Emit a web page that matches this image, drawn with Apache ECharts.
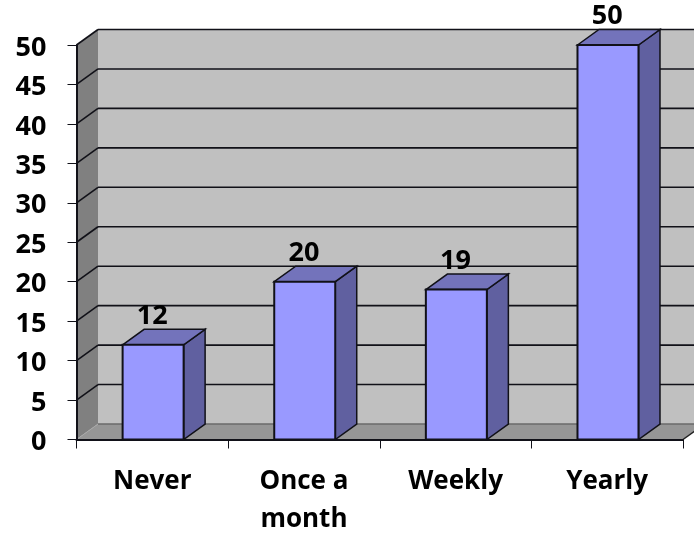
<!DOCTYPE html>
<html><head><meta charset="utf-8">
<style>html,body{margin:0;padding:0;background:#fff}#c{width:694px;height:533px}</style>
<script src="https://cdn.jsdelivr.net/npm/echarts@6/dist/echarts.min.js"></script>
</head><body><div id="c"></div>
<script>
const categories = ['Never', 'Once a\nmonth', 'Weekly', 'Yearly'];
const values = [12, 20, 19, 50];
const gridTicks = [0, 5, 10, 15, 20, 25, 30, 35, 40, 45, 50];

const DX = 21.5, DY = -15.5, BAR_W = 61, BAR_SHIFT = 0.8;
const FONT = '"Open Sans", "Noto Sans", sans-serif';
const INK = '#111118';

function poly(points, fill, stroke, lw) {
  return { type: 'polygon', shape: { points }, style: { fill, stroke: stroke || 'none', lineWidth: lw || 0 } };
}
function seg(x1, y1, x2, y2, stroke, lw) {
  return { type: 'line', shape: { x1, y1, x2, y2 }, style: { stroke, lineWidth: lw } };
}

function renderWalls(params, api) {
  const cs = params.coordSys;
  const xL = cs.x, xR = cs.x + cs.width;
  const y0 = api.coord([0, 0])[1], yT = api.coord([0, 50])[1];
  const kids = [
    poly([[xL + DX, yT + DY], [xR + DX, yT + DY], [xR + DX, y0 + DY], [xL + DX, y0 + DY]], '#c0c0c0'),
    poly([[xL, yT], [xL + DX, yT + DY], [xL + DX, y0 + DY], [xL, y0]], '#808080'),
    poly([[xL, y0], [xL + DX, y0 + DY], [xR + DX, y0 + DY], [xR, y0]], '#969696')
  ];
  gridTicks.forEach(function (t) {
    const y = api.coord([0, t])[1];
    if (t === 0) {
      kids.push(seg(xL, y, xL + DX, y + DY, '#a8a8a8', 1));
      kids.push(seg(xL + DX, y + DY, xR + DX, y + DY, '#6a6a6a', 1.5));
      kids.push(seg(xR, y, xR + DX, y + DY, '#222', 1.5));
    } else {
      kids.push(seg(xL, y, xL + DX, y + DY, INK, 1.6));
      kids.push(seg(xL + DX, y + DY, xR + DX, y + DY, INK, 1.6));
    }
  });
  return { type: 'group', children: kids };
}

function renderBar(params, api) {
  const i = api.value(0), v = api.value(1);
  const c = api.coord([i, v]), b = api.coord([i, 0]);
  const l = c[0] - BAR_W / 2 + BAR_SHIFT, r = l + BAR_W, t = c[1], y0 = b[1];
  return {
    type: 'group',
    children: [
      poly([[r, t], [r + DX, t + DY], [r + DX, y0 + DY], [r, y0]], '#6060a0', INK, 1.5),
      poly([[l, t], [l + DX, t + DY], [r + DX, t + DY], [r, t]], '#7373bb', INK, 1.5),
      poly([[l, t], [r, t], [r, y0], [l, y0]], '#9999ff', INK, 2),
      { type: 'text', style: { x: c[0], y: t - 28.5, text: String(v), fill: '#000', font: 'bold 27px ' + FONT, align: 'center', verticalAlign: 'middle' } }
    ]
  };
}

const chart = echarts.init(document.getElementById('c'), null, { renderer: 'canvas' });
chart.setOption({
  animation: false,
  backgroundColor: '#fff',
  grid: { left: 76.5, right: 11, top: 45, bottom: 93.5, outerBoundsMode: 'none', containLabel: false },
  xAxis: {
    type: 'category', data: categories,
    axisLine: { show: true, lineStyle: { color: INK, width: 2 } },
    axisTick: { show: true, length: 9, alignWithLabel: false, lineStyle: { color: INK, width: 1 } },
    axisLabel: { color: '#000', fontFamily: FONT, fontWeight: 'bold', fontSize: 26, margin: 23, lineHeight: 38, interval: 0 },
    z: 10
  },
  yAxis: {
    type: 'value', min: 0, max: 50, interval: 5,
    splitLine: { show: false },
    axisLine: { show: true, lineStyle: { color: INK, width: 2 } },
    axisTick: { show: true, length: 9, lineStyle: { color: INK, width: 1 } },
    axisLabel: { color: '#000', fontFamily: FONT, fontWeight: 'bold', fontSize: 27, margin: 30, verticalAlign: 'top', lineHeight: 6 },
    z: 10
  },
  series: [
    { type: 'custom', renderItem: renderWalls, data: [[0, 0]], clip: false, silent: true, z: 1 },
    { type: 'custom', renderItem: renderBar, data: values.map(function (v, i) { return [i, v]; }), clip: false, z: 20, encode: { x: 0, y: 1 } }
  ]
});
</script></body></html>
